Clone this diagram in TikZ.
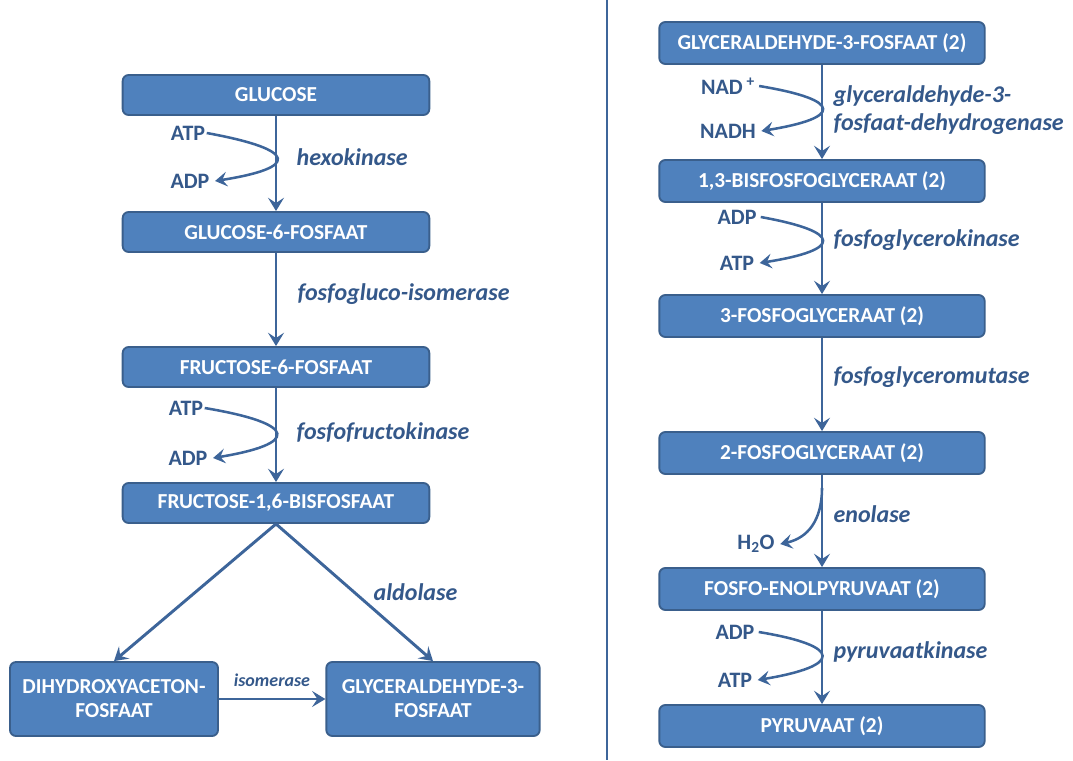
\documentclass[tikz,border=0pt]{standalone}
\usepackage{fontspec}
\setmainfont{Carlito}
\usetikzlibrary{arrows.meta}
\definecolor{boxfill}{HTML}{4F81BD}
\definecolor{boxline}{HTML}{3A5F8C}
\definecolor{lbl}{HTML}{34588A}
\definecolor{arr}{HTML}{3D659A}
\tikzset{
  stap/.style={draw=boxline, fill=boxfill, line width=1.4pt, rounded corners=4.5pt,
    text=white, font=\fontsize{16}{18}\selectfont\bfseries,
    minimum width=230pt, minimum height=30pt, inner sep=2pt, align=center},
  stapr/.style={stap, minimum width=244pt, minimum height=31.5pt},
  stapb/.style={stap, minimum width=156pt, minimum height=55.5pt},
  mol/.style={text=lbl, font=\fontsize{16.5}{18}\selectfont\bfseries, inner sep=1pt},
  enz/.style={text=lbl, font=\fontsize{18}{21}\selectfont\bfseries\itshape, inner sep=1pt, anchor=west, align=left},
  pijl/.style={draw=arr, line width=2.2pt, -{Stealth[length=10pt, width=12pt, inset=4pt]}},
  zij/.style={draw=arr, line width=1.9pt, -{Stealth[length=9pt, width=11pt, inset=3.5pt]}}
}
\begin{document}
\begin{tikzpicture}[x=0.75pt, y=-0.75pt]
\useasboundingbox (0,0) rectangle (1073,760);
% scheidingslijn
\draw[arr, line width=2.2pt] (607,0) -- (607,760);

% linker kolom
\node[stap] (glc) at (276,95) {GLUCOSE};
\node[stap] (g6p) at (276,232) {GLUCOSE-6-FOSFAAT};
\node[stap] (f6p) at (276,367) {FRUCTOSE-6-FOSFAAT};
\node[stap] (fbp) at (276,503) {FRUCTOSE-1,6-BISFOSFAAT};
\node[stapb] (dhap) at (114,699) {DIHYDROXYACETON-\\FOSFAAT};
\node[stapb, minimum width=160pt] (gap) at (433,699) {GLYCERALDEHYDE-3-\\FOSFAAT};

\node[mol] (atpa) at (188,133) {ATP};
\node[mol] (adpa) at (190,181) {ADP};
\node[enz] (hk) at (295,157) {hexokinase};
\node[enz] (pgi) at (296,294) {fosfogluco-isomerase};
\node[mol] (atpb) at (186,408) {ATP};
\node[mol] (adpb) at (188,458) {ADP};
\node[enz] (pfk) at (295,432) {fosfofructokinase};
\node[enz] (ald) at (372,592) {aldolase};
\node[text=lbl, font=\fontsize{13.5}{15}\selectfont\bfseries\itshape, inner sep=1pt] (tim) at (272,680) {isomerase};

\draw[pijl] (glc) -- (g6p);
\draw[pijl] (g6p) -- (f6p);
\draw[pijl] (f6p) -- (fbp);
\draw[pijl] (fbp.south) -- (dhap.north);
\draw[pijl] (fbp.south) -- (gap.north);
\draw[pijl] (dhap) -- (gap);
\draw[zij] (atpa.east) .. controls (300,150) and (298,168) .. ([xshift=3pt]adpa.east);
\draw[zij] (atpb.east) .. controls (300,424) and (298,444) .. ([xshift=3pt]adpb.east);

% rechter kolom
\node[stapr] (gap2) at (822,43) {GLYCERALDEHYDE-3-FOSFAAT (2)};
\node[stapr] (bpg) at (822,181) {1,3-BISFOSFOGLYCERAAT (2)};
\node[stapr] (pg3) at (822,316) {3-FOSFOGLYCERAAT (2)};
\node[stapr] (pg2) at (822,453) {2-FOSFOGLYCERAAT (2)};
\node[stapr] (pep) at (822,589) {FOSFO-ENOLPYRUVAAT (2)};
\node[stapr] (pyr) at (822,726) {PYRUVAAT (2)};

\node[mol] (nad) at (728,86) {NAD\,\textsuperscript{+}};
\node[mol] (nadh) at (728,131) {NADH};
\node[enz] (gapdh) at (832,110) {glyceraldehyde-3-\\fosfaat-dehydrogenase};
\node[mol] (adpc) at (737,217) {ADP};
\node[mol] (atpc) at (737,263) {ATP};
\node[enz] (pgk) at (832,240) {fosfoglycerokinase};
\node[enz] (pgm) at (832,377) {fosfoglyceromutase};
\node[enz] (eno) at (832,514) {enolase};
\node[mol] (h2o) at (756,544) {H\textsubscript{2}O};
\node[mol] (adpd) at (735,632) {ADP};
\node[mol] (atpd) at (735,680) {ATP};
\node[enz] (pk) at (832,652) {pyruvaatkinase};
\coordinate (enostart) at (822,488);

\draw[pijl] (gap2) -- (bpg);
\draw[pijl] (bpg) -- (pg3);
\draw[pijl] (pg3) -- (pg2);
\draw[pijl] (pg2) -- (pep);
\draw[pijl] (pep) -- (pyr);
\draw[zij] ([xshift=2pt]nad.east) .. controls (844,100) and (842,118) .. ([xshift=3pt]nadh.east);
\draw[zij] ([xshift=2pt]adpc.east) .. controls (844,232) and (842,250) .. ([xshift=3pt]atpc.east);
\draw[zij] (enostart) .. controls (822,520) and (808,538) .. ([xshift=3pt]h2o.east);
\draw[zij] ([xshift=2pt]adpd.east) .. controls (844,646) and (842,666) .. ([xshift=3pt]atpd.east);
\end{tikzpicture}
\end{document}
